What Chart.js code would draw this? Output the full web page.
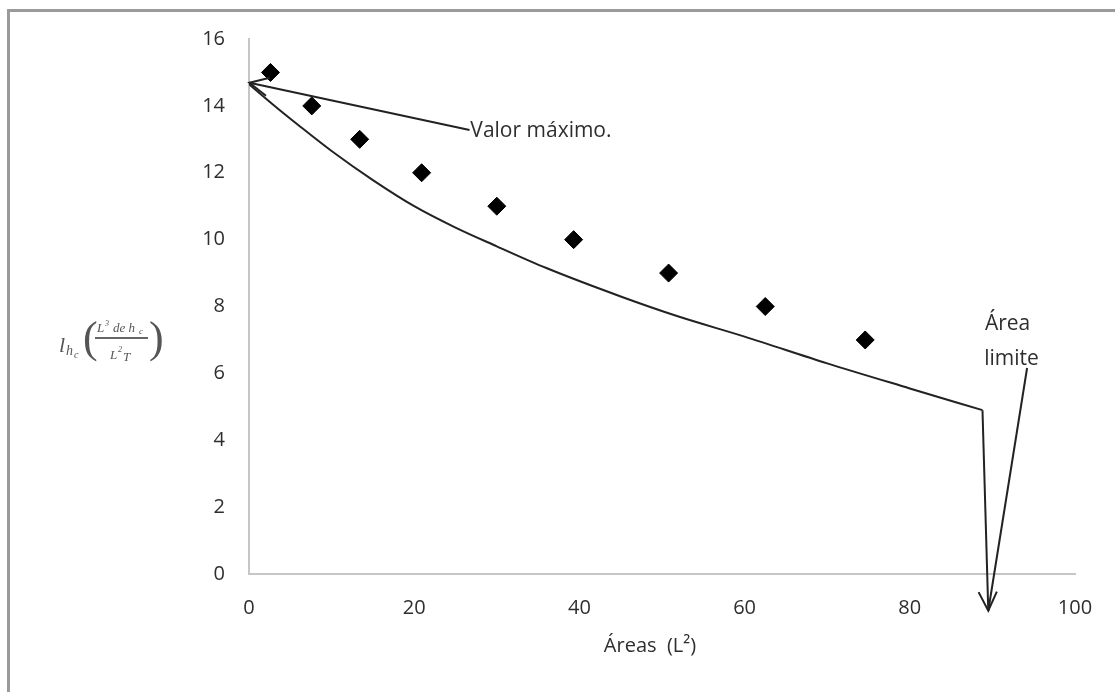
<!DOCTYPE html>
<html>
<head>
<meta charset="utf-8">
<script src="https://cdn.jsdelivr.net/npm/chart.js@4/dist/chart.umd.min.js"></script>
<style>
  html, body { margin: 0; padding: 0; background: #fff; }
  #wrap { width: 1115px; height: 692px; }
</style>
</head>
<body>
<div id="wrap"><canvas id="chart" width="1115" height="692"></canvas></div>
<script>
// diamonds (measured values)
const areaX = [2.6, 7.6, 13.4, 20.9, 30.0, 39.3, 50.8, 62.5, 74.6];
const areaY = [15, 14, 13, 12, 11, 10, 9, 8, 7];

// fitted curve
const curveX = [0, 3, 6, 10, 15, 20, 25, 30, 36, 45, 52, 60, 70, 80, 88.8];
const curveY = [14.65, 14.02, 13.42, 12.65, 11.78, 11.0, 10.36, 9.8, 9.15, 8.3, 7.7, 7.1, 6.3, 5.55, 4.9];

const xTicks = [0, 20, 40, 60, 80, 100];
const yTicks = [0, 2, 4, 6, 8, 10, 12, 14, 16];

// callouts, in data units
const arrows = [
  { from: [26.7, 13.28], to: [0.05, 14.69], head: true },
  { from: [88.8, 4.9], to: [89.5, -1.1], head: true },
  { from: [94.2, 6.16], to: [89.5, -1.1], head: false }
];
const notes = [
  { text: 'Valor máximo.', x: 26.8, y: 13.06 },
  { text: 'Área', x: 89.1, y: 7.29 },
  { text: 'limite', x: 89.0, y: 6.26 }
];

const txt = '#2e2e2e';
const sans = '"Open Sans", "Noto Sans", sans-serif';

function drawHead(ctx, x0, y0, x1, y1) {
  const a = Math.atan2(y1 - y0, x1 - x0);
  const len = 21, spread = 0.45;
  ctx.beginPath();
  ctx.moveTo(x1 - len * Math.cos(a - spread), y1 - len * Math.sin(a - spread));
  ctx.lineTo(x1, y1);
  ctx.lineTo(x1 - len * Math.cos(a + spread), y1 - len * Math.sin(a + spread));
  ctx.stroke();
}

const extras = {
  id: 'extras',
  beforeDraw(chart) {
    const ctx = chart.ctx;
    ctx.save();
    ctx.fillStyle = '#fff';
    ctx.fillRect(0, 0, chart.width, chart.height);
    ctx.strokeStyle = '#9a9a9a';
    ctx.lineWidth = 3;
    ctx.strokeRect(8.5, 10.5, chart.width + 20, chart.height + 20);
    ctx.restore();
  },
  afterDatasetsDraw(chart) {
    const ctx = chart.ctx;
    const xs = chart.scales.x, ys = chart.scales.y;
    ctx.save();
    ctx.strokeStyle = '#222';
    ctx.lineWidth = 2;
    arrows.forEach(a => {
      const x0 = xs.getPixelForValue(a.from[0]), y0 = ys.getPixelForValue(a.from[1]);
      const x1 = xs.getPixelForValue(a.to[0]), y1 = ys.getPixelForValue(a.to[1]);
      ctx.beginPath();
      ctx.moveTo(x0, y0);
      ctx.lineTo(x1, y1);
      ctx.stroke();
      if (a.head) drawHead(ctx, x0, y0, x1, y1);
    });

    ctx.fillStyle = txt;
    ctx.font = '21px ' + sans;
    ctx.textBaseline = 'alphabetic';
    ctx.textAlign = 'left';
    notes.forEach(n => {
      ctx.fillText(n.text, xs.getPixelForValue(n.x), ys.getPixelForValue(n.y));
    });

    // x axis title
    ctx.textAlign = 'center';
    ctx.font = '20px ' + sans;
    ctx.fillText('Áreas  (L²)', 650, 652);

    // y axis label (formula)
    const serif = '"Liberation Serif", "DejaVu Serif", serif';
    ctx.fillStyle = '#555';
    ctx.textAlign = 'left';
    ctx.font = 'italic 22px ' + serif;
    ctx.fillText('l', 59, 352);
    ctx.font = 'italic 14px ' + serif;
    ctx.fillText('h', 66, 355);
    ctx.font = 'italic 10px ' + serif;
    ctx.fillText('c', 74, 358);
    ctx.font = '44px ' + serif;
    ctx.fillText('(', 83, 352);
    ctx.fillText(')', 149, 352);
    ctx.font = 'italic 13px ' + serif;
    ctx.fillText('L', 97, 332);
    ctx.font = 'italic 8px ' + serif;
    ctx.fillText('3', 105, 326);
    ctx.font = 'italic 13px ' + serif;
    ctx.fillText('de h', 113, 332);
    ctx.font = 'italic 9px ' + serif;
    ctx.fillText('c', 139, 334);
    ctx.font = 'italic 13px ' + serif;
    ctx.fillText('L', 110, 359);
    ctx.font = 'italic 8px ' + serif;
    ctx.fillText('2', 118, 352);
    ctx.font = 'italic 13px ' + serif;
    ctx.fillText('T', 123, 361);
    ctx.strokeStyle = '#333';
    ctx.lineWidth = 1.5;
    ctx.beginPath();
    ctx.moveTo(95, 338);
    ctx.lineTo(148, 338);
    ctx.stroke();
    ctx.restore();
  }
};

new Chart(document.getElementById('chart'), {
  type: 'scatter',
  data: {
    datasets: [{
      label: 'puntos',
      data: areaX.map((x, i) => ({ x: x, y: areaY[i] })),
      pointStyle: 'rectRot',
      pointRadius: 9,
      backgroundColor: '#000',
      borderColor: '#000',
      borderWidth: 1,
      showLine: false
    }, {
      label: 'curva',
      data: curveX.map((x, i) => ({ x: x, y: curveY[i] })),
      showLine: true,
      borderColor: '#222',
      borderWidth: 2,
      pointRadius: 0,
      cubicInterpolationMode: 'monotone',
      fill: false
    }]
  },
  options: {
    responsive: false,
    animation: false,
    layout: { padding: { left: 0, top: 39, right: 40, bottom: 0 } },
    plugins: { legend: { display: false }, tooltip: { enabled: false } },
    scales: {
      x: {
        type: 'linear',
        min: 0, max: 100,
        afterBuildTicks: s => { s.ticks = xTicks.map(v => ({ value: v })); },
        afterFit: s => { s.height = 118; },
        grid: { display: false, drawTicks: false },
        border: { display: true, color: '#c6c6c6', width: 2 },
        ticks: { padding: 22, color: txt, font: { family: sans, size: 20 } }
      },
      y: {
        type: 'linear',
        min: 0, max: 16,
        afterBuildTicks: s => { s.ticks = yTicks.map(v => ({ value: v })); },
        afterFit: s => { s.width = 249; },
        grid: { display: false, drawTicks: false },
        border: { display: true, color: '#c6c6c6', width: 2 },
        ticks: { padding: 24, color: txt, font: { family: sans, size: 20 } }
      }
    }
  },
  plugins: [extras]
});
</script>
</body>
</html>
